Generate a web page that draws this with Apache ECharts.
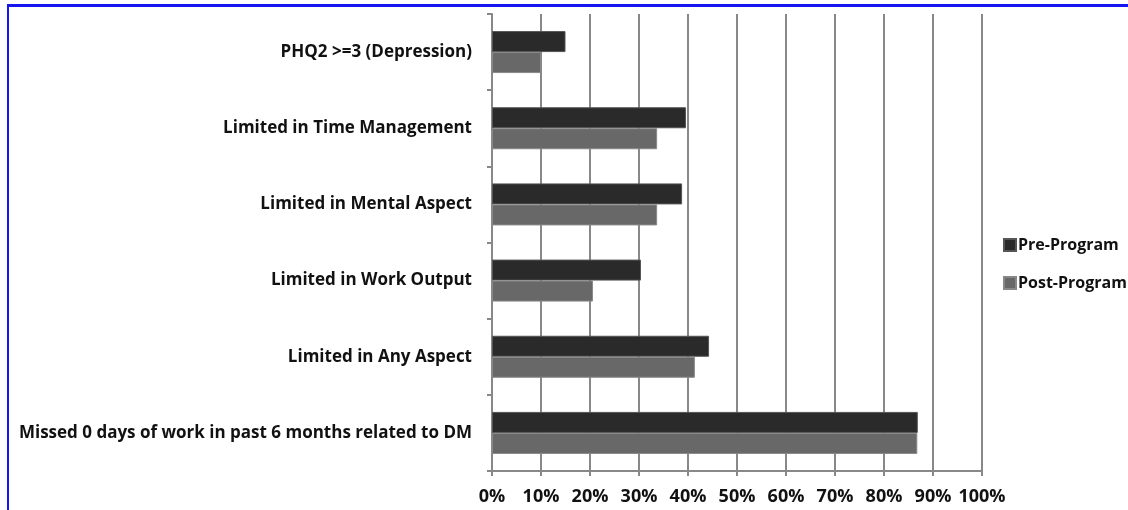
<!DOCTYPE html>
<html>
<head>
<meta charset="utf-8">
<script src="https://cdn.jsdelivr.net/npm/echarts@6/dist/echarts.min.js"></script>
<style>
  html, body { margin: 0; padding: 0; background: #fff; }
  #frame { position: absolute; left: 7px; top: 4px; width: 1200px; height: 600px; border-left: 2px solid #1515f0; border-top: 3px solid #1515f0; }
  #main { position: absolute; left: 0; top: 0; width: 1128px; height: 510px; }
</style>
</head>
<body>
<div id="frame"></div>
<div id="main"></div>
<script>
// 类目（从上到下）
const categories = [
  'PHQ2 >=3 (Depression)',
  'Limited in Time Management',
  'Limited in Mental Aspect',
  'Limited in Work Output',
  'Limited in Any Aspect',
  'Missed 0 days of work in past 6 months related to DM'
];
const seriesNames = ['Pre-Program', 'Post-Program'];
// 百分比数值
const preValues = [15, 39.6, 38.8, 30.4, 44.3, 86.9];
const postValues = [10, 33.7, 33.7, 20.6, 41.4, 86.8];
const xTicks = [0, 10, 20, 30, 40, 50, 60, 70, 80, 90, 100];

const chart = echarts.init(document.getElementById('main'));
const labelFont = { fontFamily: 'Open Sans', fontWeight: 'bold', fontSize: 17, color: '#111' };

chart.setOption({
  animation: false,
  grid: { left: 492, right: 146, top: 14, bottom: 39, containLabel: false },
  legend: {
    orient: 'vertical',
    left: 998,
    top: 232,
    itemWidth: 12,
    itemHeight: 12,
    itemGap: 22,
    icon: 'rect',
    data: seriesNames,
    textStyle: Object.assign({}, labelFont, { fontSize: 16, padding: [0, 0, 0, -3] })
  },
  xAxis: {
    type: 'value',
    min: xTicks[0],
    max: xTicks[xTicks.length - 1],
    interval: 10,
    axisLine: { show: true, lineStyle: { color: '#888', width: 2 } },
    axisTick: { show: true, length: 5, lineStyle: { color: '#888', width: 2 } },
    splitLine: { show: true, lineStyle: { color: '#888', width: 2 } },
    axisLabel: Object.assign({}, labelFont, { fontSize: 18, margin: 17, formatter: '{value}%' })
  },
  yAxis: {
    type: 'category',
    inverse: true,
    data: categories,
    axisLine: { show: true, lineStyle: { color: '#888', width: 2 } },
    axisTick: { show: true, length: 5, lineStyle: { color: '#888', width: 2 } },
    axisLabel: Object.assign({}, labelFont, { margin: 20 })
  },
  series: [
    {
      name: seriesNames[0],
      type: 'bar',
      data: preValues,
      barWidth: 21,
      barGap: '0%',
      itemStyle: { color: '#2a2a2a', borderColor: '#555', borderWidth: 1 }
    },
    {
      name: seriesNames[1],
      type: 'bar',
      data: postValues,
      barWidth: 21,
      barGap: '0%',
      itemStyle: { color: '#686868', borderColor: '#888', borderWidth: 1 }
    }
  ]
});
</script>
</body>
</html>
